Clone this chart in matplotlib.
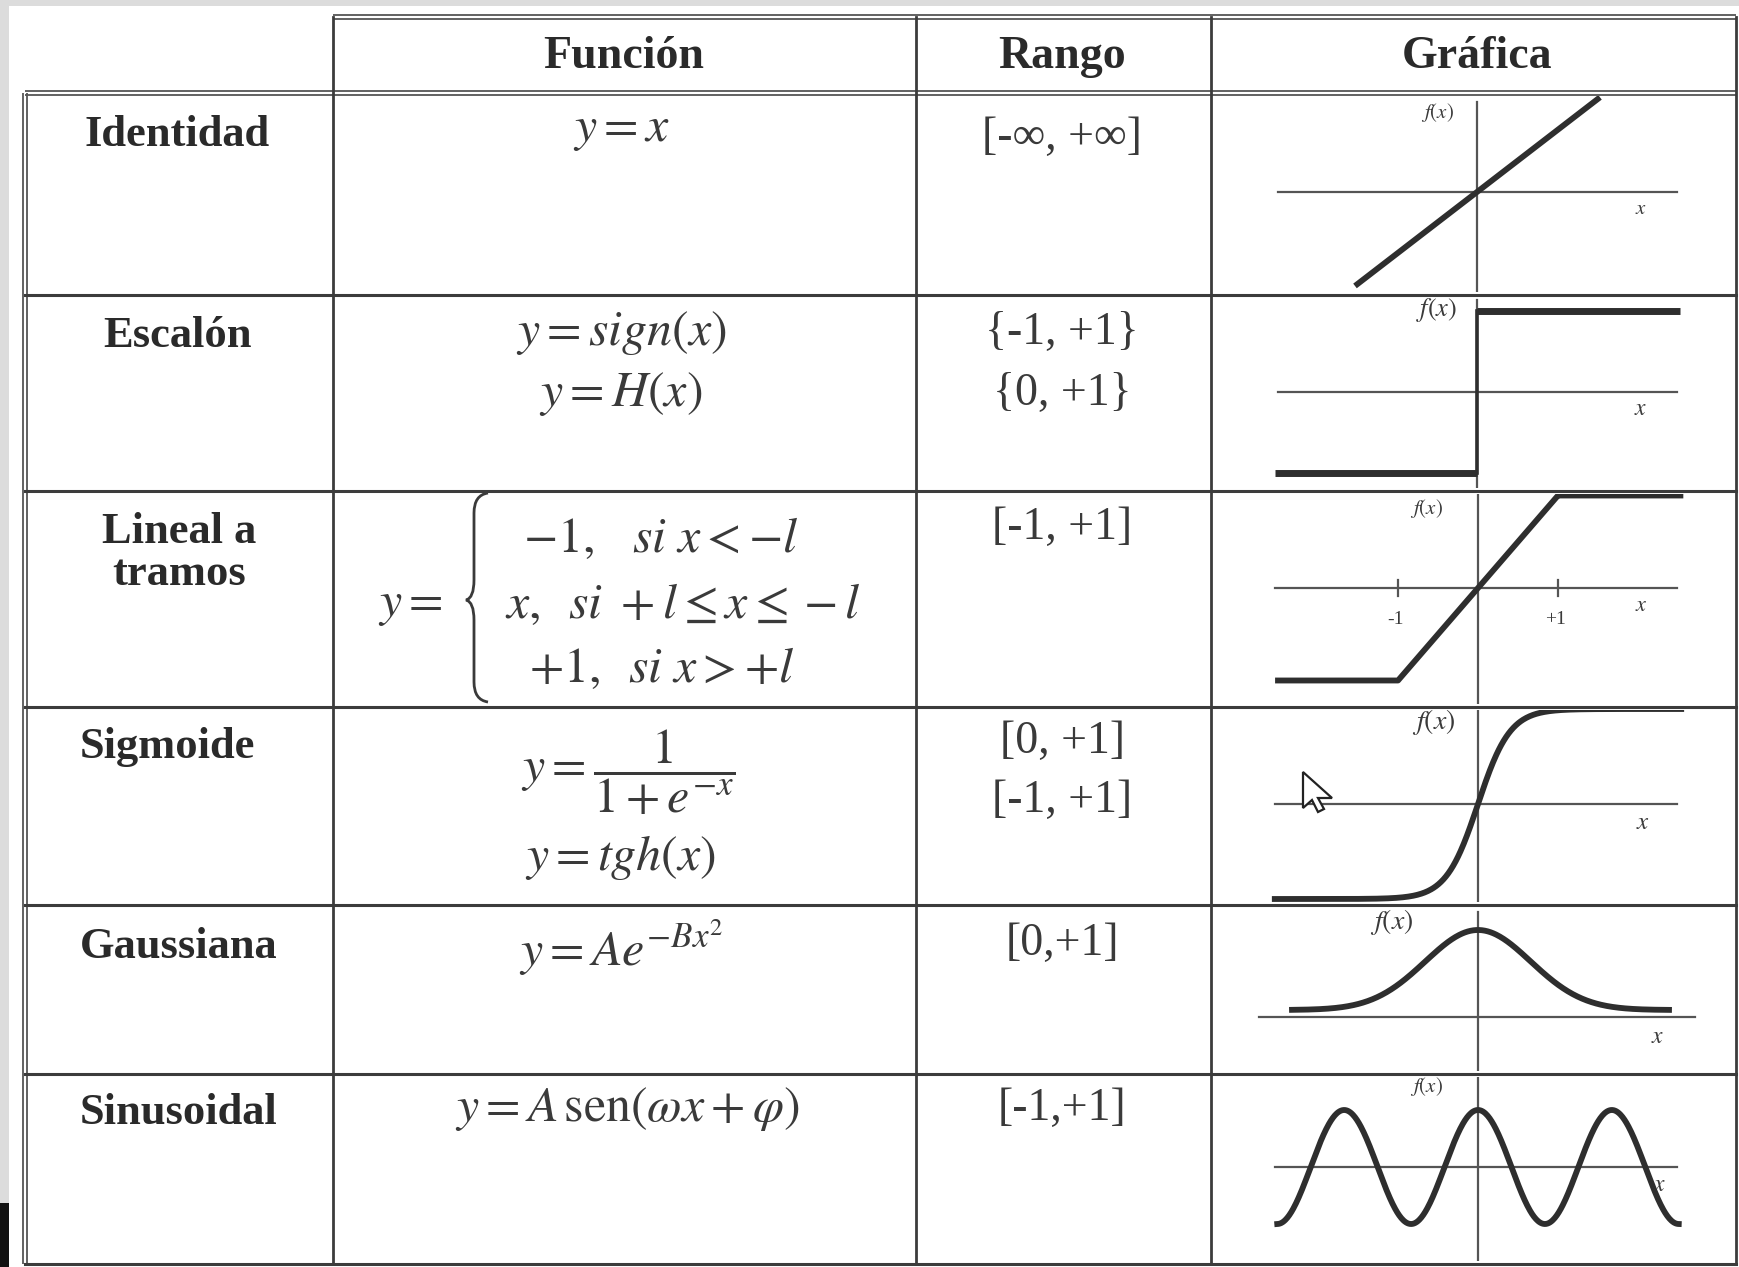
import numpy as np
import matplotlib
matplotlib.use("Agg")
import matplotlib.pyplot as plt
from matplotlib.path import Path
from matplotlib.patches import PathPatch, Polygon, Rectangle

# ---------------- data ----------------
headers = ["Función", "Rango", "Gráfica"]
row_names = ["Identidad", "Escalón", "Lineal a\ntramos", "Sigmoide", "Gaussiana", "Sinusoidal"]
functions = [
    [r"$y = x$"],
    [r"$y = sign(x)$", r"$y = H(x)$"],
    [r"$-1,\;\;\; si\ x < -l$", r"$x,\;\; si\ +l \leq x \leq -l$", r"$+1,\;\; si\ x > +l$"],
    [r"$y = \dfrac{1}{1+e^{-x}}$", r"$y = tgh(x)$"],
    [r"$y = Ae^{-Bx^2}$"],
    [r"$y = A\,\mathrm{sen}(\omega x + \varphi)$"],
]
ranges = [["[-∞, +∞]"], ["{-1, +1}", "{0, +1}"], ["[-1, +1]"], ["[0, +1]", "[-1, +1]"],
          ["[0,+1]"], ["[-1,+1]"]]

identity_x = [-1.22, 1.23]
step_levels = [-1, 1]
step_x = [-2.02, 2.03]
ramp_limits = [-1, 1]
ramp_x = [-2.5, 2.53]
ramp_ticks = [-1, 1]
ramp_tick_labels = ["-1", "+1"]
sigmoid_x = [-6.35, 6.35]
gauss_A, gauss_B = 1.0, 0.45
gauss_x = [-3.72, 3.82]
sin_A, sin_w, sin_phi = 1.0, 1.0, np.pi / 2
sin_x = [-3 * np.pi, 3 * np.pi]

# ---------------- figure ----------------
W, H = 1739, 1267
plt.rcParams["mathtext.fontset"] = "stix"
fig = plt.figure(figsize=(W / 100, H / 100), dpi=100)
fig.patch.set_facecolor("white")
ax = fig.add_axes([0, 0, 1, 1])
ax.set_xlim(0, W)
ax.set_ylim(H, 0)
ax.axis("off")

# scan frame
ax.add_patch(Rectangle((0, 0), W, 6, color="#dcdcdc", lw=0))
ax.add_patch(Rectangle((0, 0), 9, H, color="#dcdcdc", lw=0))
ax.add_patch(Rectangle((0, 1203), 9, 64, color="#111111", lw=0))

LC = "#3c3c3c"
x_cols = [25, 333, 916, 1211, 1736]
y_rows = [93, 295, 491, 707, 905, 1074, 1264]
y_head = 17


def dline(xs, ys, vertical=False):
    off = 2.2
    for d in (-off, off):
        if vertical:
            ax.plot([xs[0] + d, xs[1] + d], ys, color="#555555", lw=1.3, solid_capstyle="butt")
        else:
            ax.plot(xs, [ys[0] + d, ys[1] + d], color="#555555", lw=1.3, solid_capstyle="butt")


dline([x_cols[1], x_cols[4]], [y_head, y_head])
dline([x_cols[0], x_cols[4]], [y_rows[0], y_rows[0]])
dline([x_cols[0], x_cols[0]], [y_rows[0], y_rows[-1]], vertical=True)
for yr in y_rows[1:]:
    ax.plot([x_cols[0], x_cols[4]], [yr, yr], color=LC, lw=2.2)
for xc in x_cols[1:]:
    ax.plot([xc, xc], [y_head, y_rows[-1]], color=LC, lw=2.0)

TC = "#2a2a2a"
EC = "#3a3a3a"
SERIF = ["Liberation Serif", "DejaVu Serif"]
# headers
head_x = [624, 1062, 1477]
for t, hx in zip(headers, head_x):
    ax.text(hx, 57, t, ha="center", va="center", fontsize=33, fontweight="bold",
            family=SERIF, color=TC)

# row names
name_pos = [(177, 135), (177, 336), (179, 553), (167, 747), (179, 947), (179, 1113)]
for t, (px, py) in zip(row_names, name_pos):
    ax.text(px, py, t, ha="center", va="center", fontsize=32, fontweight="bold",
            family=SERIF, color=TC, linespacing=1.05)

# functions
fpos = [
    [(621, 129)],
    [(621, 333), (621, 394)],
    [(661, 538), (683, 604), (662, 668)],
    [(628, 772), (621, 857)],
    [(621, 948)],
    [(627, 1109)],
]
for texts, poss in zip(functions, fpos):
    for t, (px, py) in zip(texts, poss):
        ax.text(px, py, t, ha="center", va="center", fontsize=36, color=EC)
# "y =" and brace of the piecewise function
ax.text(410, 604, r"$y =$", ha="center", va="center", fontsize=36, color=EC)
bx, btop, bbot, bmid = 488, 493, 702, 600
verts = [(bx, btop), (bx - 14, btop + 2), (bx - 14, btop + 20), (bx - 14, bmid - 20),
         (bx - 14, bmid - 2), (bx - 22, bmid), (bx - 14, bmid + 2), (bx - 14, bmid + 20),
         (bx - 14, bbot - 20), (bx - 14, bbot - 2), (bx, bbot)]
codes = [Path.MOVETO, Path.CURVE3, Path.CURVE3, Path.LINETO, Path.CURVE3, Path.CURVE3,
         Path.CURVE3, Path.CURVE3, Path.LINETO, Path.CURVE3, Path.CURVE3]
ax.add_patch(PathPatch(Path(verts, codes), fill=False, ec=EC, lw=2.0))

# ranges
rpos = [[(1062, 138)], [(1062, 333), (1062, 394)], [(1062, 528)],
        [(1062, 742), (1062, 801)], [(1062, 944)], [(1062, 1109)]]
for texts, poss in zip(ranges, rpos):
    for t, (px, py) in zip(texts, poss):
        ax.text(px, py, t, ha="center", va="center", fontsize=33, color=EC, family=SERIF)

# ---------------- graphs ----------------
CC = "#2e2e2e"
AC = "#555555"
GL, GR = 1213, 1734


def graph_axes(top, bottom, ox, oy, sx, sy):
    a = fig.add_axes([GL / W, 1 - bottom / H, (GR - GL) / W, (bottom - top) / H])
    a.set_xlim((GL - ox) / sx, (GR - ox) / sx)
    a.set_ylim((oy - bottom) / sy, (oy - top) / sy)
    a.axis("off")
    return a


def axes_lines(a, ox, oy, sx, sy, hx, vy, hy=0.0):
    a.plot([(hx[0] - ox) / sx, (hx[1] - ox) / sx], [hy, hy], color=AC, lw=1.6)
    a.plot([0, 0], [(oy - vy[1]) / sy, (oy - vy[0]) / sy], color=AC, lw=1.6)


def labels(fx_pos, x_pos, fs_f, fs_x):
    ax.text(fx_pos[0], fx_pos[1], r"$f(x)$", ha="center", va="center", fontsize=fs_f, color=EC)
    ax.text(x_pos[0], x_pos[1], r"$x$", ha="center", va="center", fontsize=fs_x, color=EC)


# 1 identity
ox, oy, sx, sy = 1477, 192, 100, 77
a = graph_axes(y_rows[0] + 3, y_rows[1] - 3, ox, oy, sx, sy)
axes_lines(a, ox, oy, sx, sy, (1278, 1677), (102, 292))
xi = np.array(identity_x)
a.plot(xi, xi, color=CC, lw=4.2, solid_capstyle="butt")
labels((1437, 112), (1641, 208), 15, 15)

# 2 step
ox, oy, sx, sy = 1477, 392, 100, 81
a = graph_axes(y_rows[1] + 3, y_rows[2] - 3, ox, oy, sx, sy)
axes_lines(a, ox, oy, sx, sy, (1278, 1677), (300, 488))
a.plot([step_x[0], 0], [step_levels[0]] * 2, color=CC, lw=5.0, solid_capstyle="butt")
a.plot([0, step_x[1]], [step_levels[1]] * 2, color=CC, lw=5.0, solid_capstyle="butt")
a.plot([0, 0], step_levels, color=CC, lw=2.6)
labels((1437, 310), (1641, 408), 19, 17)

# 3 piecewise linear
ox, oy, sx, sy = 1478, 588, 80, 92.5
a = graph_axes(y_rows[2] + 3, y_rows[3] - 3, ox, oy, sx, sy)
axes_lines(a, ox, oy, sx, sy, (1275, 1677), (495, 704))
xr = np.linspace(ramp_x[0], ramp_x[1], 400)
a.plot(xr, np.clip(xr, ramp_limits[0], ramp_limits[1]), color=CC, lw=4.2)
for tk in ramp_ticks:
    a.plot([tk, tk], [-0.09, 0.09], color=AC, lw=1.6)
for tk, tl in zip(ramp_ticks, ramp_tick_labels):
    ax.text(ox + tk * sx - 3, 620, tl, ha="center", va="center", fontsize=14, color=EC,
            family=SERIF)
labels((1426, 508), (1641, 605), 15, 16)

# 4 sigmoid
ox, oy, sx, sy = 1478, 804, 32, 95
a = graph_axes(y_rows[3] + 3, y_rows[4] - 3, ox, oy, sx, sy)
axes_lines(a, ox, oy, sx, sy, (1275, 1677), (711, 903))
xs = np.linspace(sigmoid_x[0], sigmoid_x[1], 500)
a.plot(xs, np.tanh(xs), color=CC, lw=4.2)
labels((1434, 722), (1643, 822), 20, 18)

# 5 gaussian
ox, oy, sx, sy = 1478, 1010, 50, 80
a = graph_axes(y_rows[4] + 3, y_rows[5] - 3, ox, oy, sx, sy)
axes_lines(a, ox, oy, sx, sy, (1259, 1695), (912, 1072), hy=-0.09)
xg = np.linspace(gauss_x[0], gauss_x[1], 400)
a.plot(xg, gauss_A * np.exp(-gauss_B * xg ** 2), color=CC, lw=4.2)
labels((1392, 922), (1658, 1036), 20, 17)

# 6 sinusoid
ox, oy, sx, sy = 1478, 1167, 21.3, 57
a = graph_axes(y_rows[5] + 3, y_rows[6] - 3, ox, oy, sx, sy)
axes_lines(a, ox, oy, sx, sy, (1275, 1677), (1077, 1262))
xw = np.linspace(sin_x[0], sin_x[1], 600)
a.plot(xw, sin_A * np.sin(sin_w * xw + sin_phi), color=CC, lw=4.2)
labels((1426, 1087), (1660, 1184), 15, 17)

# mouse cursor (scan artifact)
cx, cy = 1303, 772
cur = [(0, 0), (0, 36), (9, 28), (15, 40), (21, 37), (15, 26), (29, 26)]
poly = Polygon([(cx + u, cy + v) for u, v in cur], closed=True, fc="white", ec="#222222",
               lw=1.6, transform=ax.transData, zorder=10)
fig.add_artist(poly)

fig.savefig("out.png", dpi=100, facecolor="white")
